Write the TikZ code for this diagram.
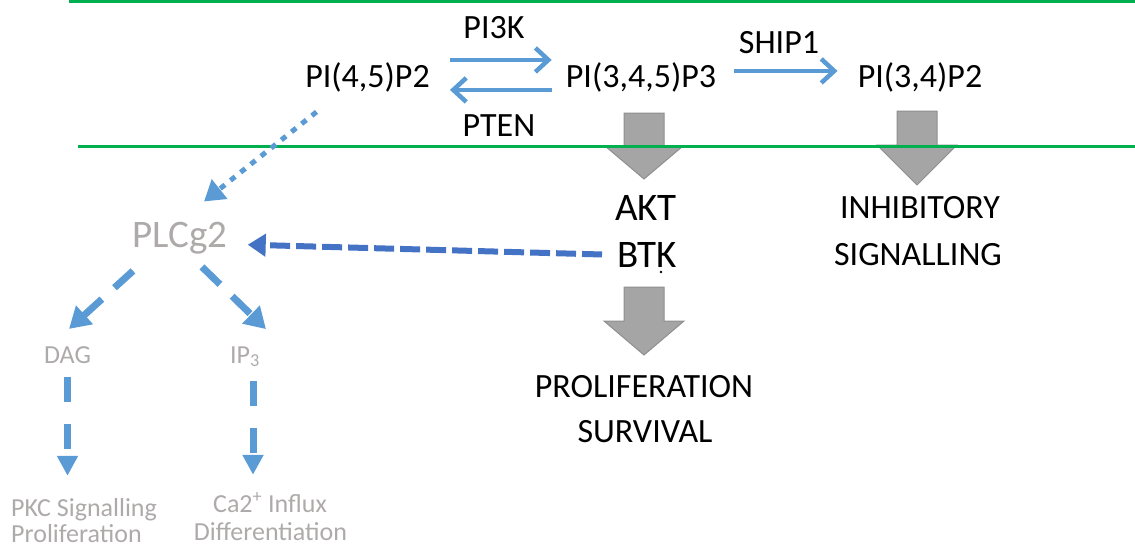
\documentclass[tikz,border=0pt]{standalone}
\usepackage{fontspec}
\setmainfont{Carlito}
\usetikzlibrary{arrows.meta}

\definecolor{memb}{HTML}{00B050}
\definecolor{lblue}{HTML}{5B9BD5}
\definecolor{dblue}{HTML}{4472C4}
\definecolor{faint}{HTML}{AEAAAA}
\definecolor{blockfill}{HTML}{A5A5A5}
\definecolor{blockline}{HTML}{8F8F8F}

\tikzset{
  lbl/.style={inner sep=0pt, anchor=base, font=\fontsize{34}{40}\selectfont},
  biglbl/.style={inner sep=0pt, anchor=base, font=\fontsize{39}{47}\selectfont},
  plclbl/.style={inner sep=0pt, anchor=base, text=faint, font=\fontsize{39}{46}\selectfont},
  smalllbl/.style={inner sep=0pt, anchor=base, text=faint, font=\fontsize{26}{30}\selectfont},
  membrane/.style={draw=memb, line width=3pt},
  enzymearrow/.style={draw=lblue, line width=4.5pt,
    -{Straight Barb[length=13pt,width=24pt]}},
  dotarrow/.style={draw=lblue, line width=5pt, dash pattern=on 6pt off 7pt,
    -{Triangle[length=20pt,width=24pt]}},
  btkarrow/.style={draw=dblue, line width=6pt, dash pattern=on 20pt off 6pt,
    -{Triangle[length=18pt,width=22pt]}},
  plcarrow/.style={draw=lblue, line width=7pt, dash pattern=on 25pt off 17pt,
    -{Triangle[length=21pt,width=24pt]}},
  downarrow/.style={draw=lblue, line width=7pt, dash pattern=on 25pt off 22pt,
    -{Triangle[length=20pt,width=20pt]}},
  blockarrow/.style={fill=blockfill, draw=blockline, line width=1pt, line join=miter},
}

\begin{document}
\begin{tikzpicture}[x=1pt, y=-1pt]
  \useasboundingbox (0,0) rectangle (1135,549);

  % lipids at the membrane
  \node[lbl] (p45)  at (367.5,87) {PI(4,5)P2};
  \node[lbl] (p345) at (641,87)   {PI(3,4,5)P3};
  \node[lbl] (p34)  at (920,87)   {PI(3,4)P2};

  % enzymes
  \node[lbl] (pi3k)  at (494,38)  {PI3K};
  \node[lbl] (pten)  at (499,136) {PTEN};
  \node[lbl] (ship1) at (779,53)  {SHIP1};

  % downstream effectors and outcomes
  \node[biglbl] (akt) at (646,220) {AKT};
  \node[biglbl] (btk) at (647,267) {BTK};
  \node[lbl] (inh)  at (920,218) {INHIBITORY};
  \node[lbl] (sig)  at (918,265) {SIGNALLING};
  \node[lbl] (prol) at (644,397) {PROLIFERATION};
  \node[lbl] (surv) at (645,442) {SURVIVAL};

  % PLCg2 branch
  \node[plclbl] (plc) at (180,247) {PLCg2};
  \node[smalllbl] (dag) at (67.5,363) {DAG};
  \node[smalllbl] (ip3) at (245,363) {IP\textsubscript{3}};
  \node[smalllbl, anchor=base west] (pkc1) at (11,516) {PKC Signalling};
  \node[smalllbl, anchor=base west] (pkc2) at (11,542) {Proliferation};
  \node[smalllbl] (ca1) at (270,512) {Ca2\textsuperscript{+} Influx};
  \node[smalllbl] (ca2) at (270.5,540) {Differentiation};

  % small mark under BTK
  \fill ([xshift=14pt,yshift=-5pt]btk.base) circle (1.3pt);

  % grey block arrows
  \draw[blockarrow] (624,113) -- (664,113) -- (664,146) -- (683,146) -- (644,179)
    -- (605,146) -- (624,146) -- cycle;
  \draw[blockarrow] (897,111) -- (937,111) -- (937,145) -- (957,145) -- (917,185)
    -- (877,145) -- (897,145) -- cycle;
  \draw[blockarrow] (624,287) -- (664,287) -- (664,321) -- (684,321) -- (644,355)
    -- (604,321) -- (624,321) -- cycle;

  % membrane lines
  \draw[membrane] (69,1) -- (1135,1);
  \draw[membrane] (78,146.5) -- (1135,146.5);

  % enzymatic conversions
  \draw[enzymearrow] ([xshift=20pt,yshift=17pt]p45.east) -- ([xshift=-14pt,yshift=17pt]p345.west);
  \draw[enzymearrow] ([xshift=-14pt,yshift=-13pt]p345.west) -- ([xshift=20pt,yshift=-13pt]p45.east);
  \draw[enzymearrow] ([xshift=18pt,yshift=6pt]p345.east) -- ([xshift=-20pt,yshift=6pt]p34.west);

  % PI(4,5)P2 feeds PLCg2
  \draw[dotarrow] ([xshift=-51pt,yshift=-20pt]p45.south) -- ([xshift=24pt,yshift=20pt]plc.north);

  % BTK activates PLCg2
  \draw[btkarrow] ([xshift=-15pt]btk.west) -- ([xshift=20pt,yshift=-7pt]plc.east);

  % PLCg2 products
  \draw[plcarrow] ([xshift=-47pt,yshift=-17pt]plc.south) -- ([xshift=1.5pt,yshift=17pt]dag.north);
  \draw[plcarrow] ([xshift=22pt,yshift=-13pt]plc.south) -- ([xshift=21pt,yshift=17pt]ip3.north);

  % second messengers to outcomes
  \draw[downarrow] ([yshift=-14pt]dag.south) -- ([yshift=22pt]dag.south |- pkc1.north);
  \draw[downarrow] ([xshift=8pt,yshift=-14pt]ip3.south) -- ([xshift=8pt,yshift=18pt]ip3.south |- ca1.north);
\end{tikzpicture}
\end{document}
